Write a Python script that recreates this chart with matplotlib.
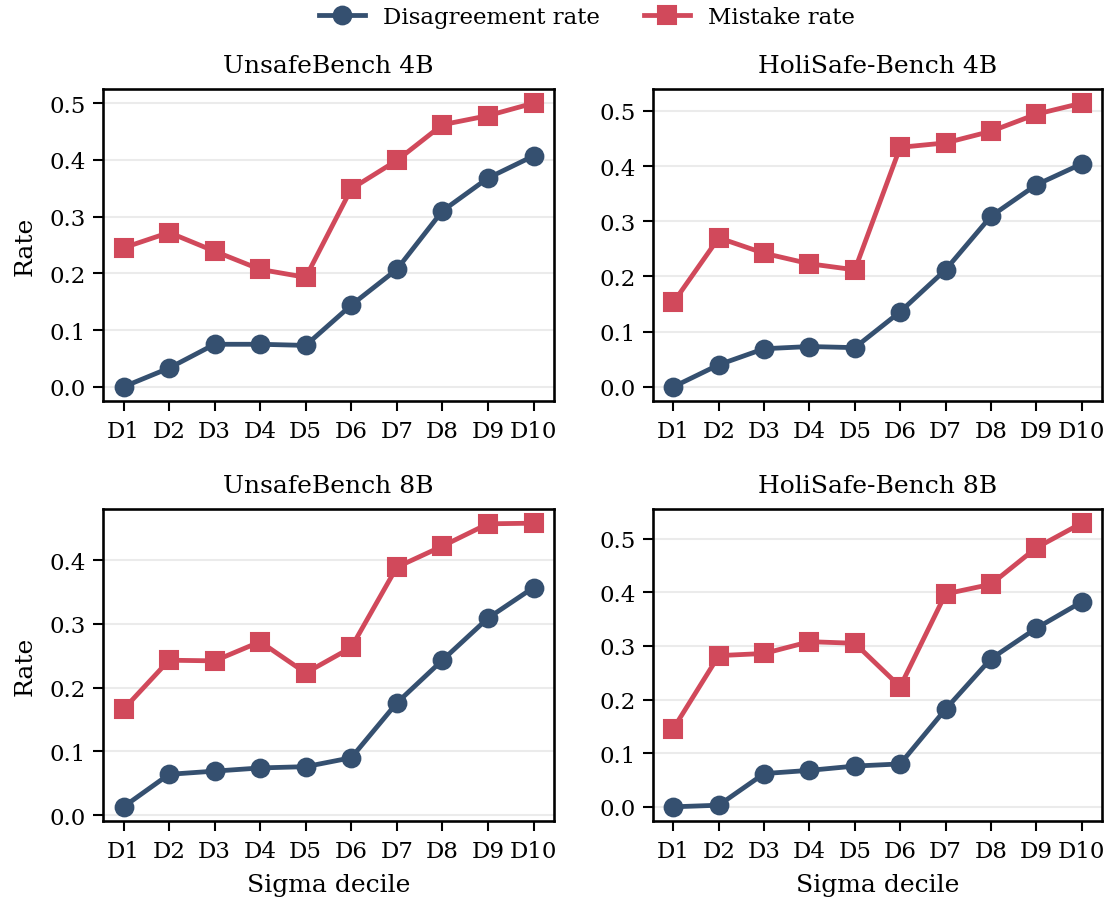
import matplotlib
matplotlib.use("Agg")
import matplotlib.pyplot as plt
import numpy as np

deciles = ["D1", "D2", "D3", "D4", "D5", "D6", "D7", "D8", "D9", "D10"]

titles = ["UnsafeBench 4B", "HoliSafe-Bench 4B", "UnsafeBench 8B", "HoliSafe-Bench 8B"]

disagree_ub4 = [0.000, 0.033, 0.075, 0.075, 0.073, 0.144, 0.207, 0.310, 0.368, 0.407]
mistake_ub4 = [0.245, 0.272, 0.239, 0.207, 0.193, 0.349, 0.399, 0.462, 0.478, 0.500]

disagree_hs4 = [0.000, 0.040, 0.069, 0.073, 0.071, 0.136, 0.212, 0.309, 0.366, 0.404]
mistake_hs4 = [0.153, 0.270, 0.242, 0.223, 0.212, 0.434, 0.442, 0.463, 0.494, 0.514]

disagree_ub8 = [0.013, 0.064, 0.069, 0.074, 0.076, 0.090, 0.176, 0.243, 0.309, 0.357]
mistake_ub8 = [0.166, 0.243, 0.242, 0.272, 0.223, 0.263, 0.389, 0.422, 0.457, 0.458]

disagree_hs8 = [0.000, 0.003, 0.062, 0.068, 0.076, 0.080, 0.182, 0.276, 0.333, 0.382]
mistake_hs8 = [0.146, 0.282, 0.286, 0.308, 0.305, 0.224, 0.397, 0.415, 0.483, 0.529]

disagree_all = [disagree_ub4, disagree_hs4, disagree_ub8, disagree_hs8]
mistake_all = [mistake_ub4, mistake_hs4, mistake_ub8, mistake_hs8]

BLUE = "#355070"
RED = "#D1495B"

plt.rcParams["font.family"] = ["DejaVu Serif"]

fig = plt.figure(figsize=(7.4, 6.02), dpi=150)
W, H = 1110, 903
boxes = [
    (103, 90, 554, 402),
    (653, 90, 1102, 402),
    (103, 510, 554, 822),
    (653, 510, 1102, 822),
]
axes = []
for (l, t, r, b) in boxes:
    axes.append(fig.add_axes([l / W, 1 - b / H, (r - l) / W, (b - t) / H]))

x = np.arange(len(deciles))
for i, ax in enumerate(axes):
    h1, = ax.plot(x, disagree_all[i], color=BLUE, marker="o", markersize=8.5,
                  linewidth=2.3, label="Disagreement rate", zorder=3)
    h2, = ax.plot(x, mistake_all[i], color=RED, marker="s", markersize=8.5,
                  linewidth=2.3, label="Mistake rate", zorder=3)
    ax.set_xticks(x)
    ax.set_xticklabels(deciles)
    ax.yaxis.set_major_locator(matplotlib.ticker.MultipleLocator(0.1))
    ax.grid(axis="y", color="#ebebeb", linewidth=1.0, zorder=0)
    ax.set_axisbelow(True)
    ax.tick_params(axis="both", labelsize=11, length=4.8, width=1.0, direction="out")
    ax.tick_params(axis="x", pad=4.5)
    for s in ax.spines.values():
        s.set_linewidth(1.25)
        s.set_color("black")
    ax.set_title(titles[i], fontsize=12, pad=8)
    if i % 2 == 0:
        ax.set_ylabel("Rate", fontsize=12, labelpad=6)
    if i >= 2:
        ax.set_xlabel("Sigma decile", fontsize=12, labelpad=5)

fig.legend([h1, h2], ["Disagreement rate", "Mistake rate"], loc="center",
           bbox_to_anchor=(587 / W, 1 - 18 / H), ncol=2, frameon=False,
           fontsize=11, handlelength=2.0, columnspacing=1.9)

fig.savefig("out.png", dpi=150)
